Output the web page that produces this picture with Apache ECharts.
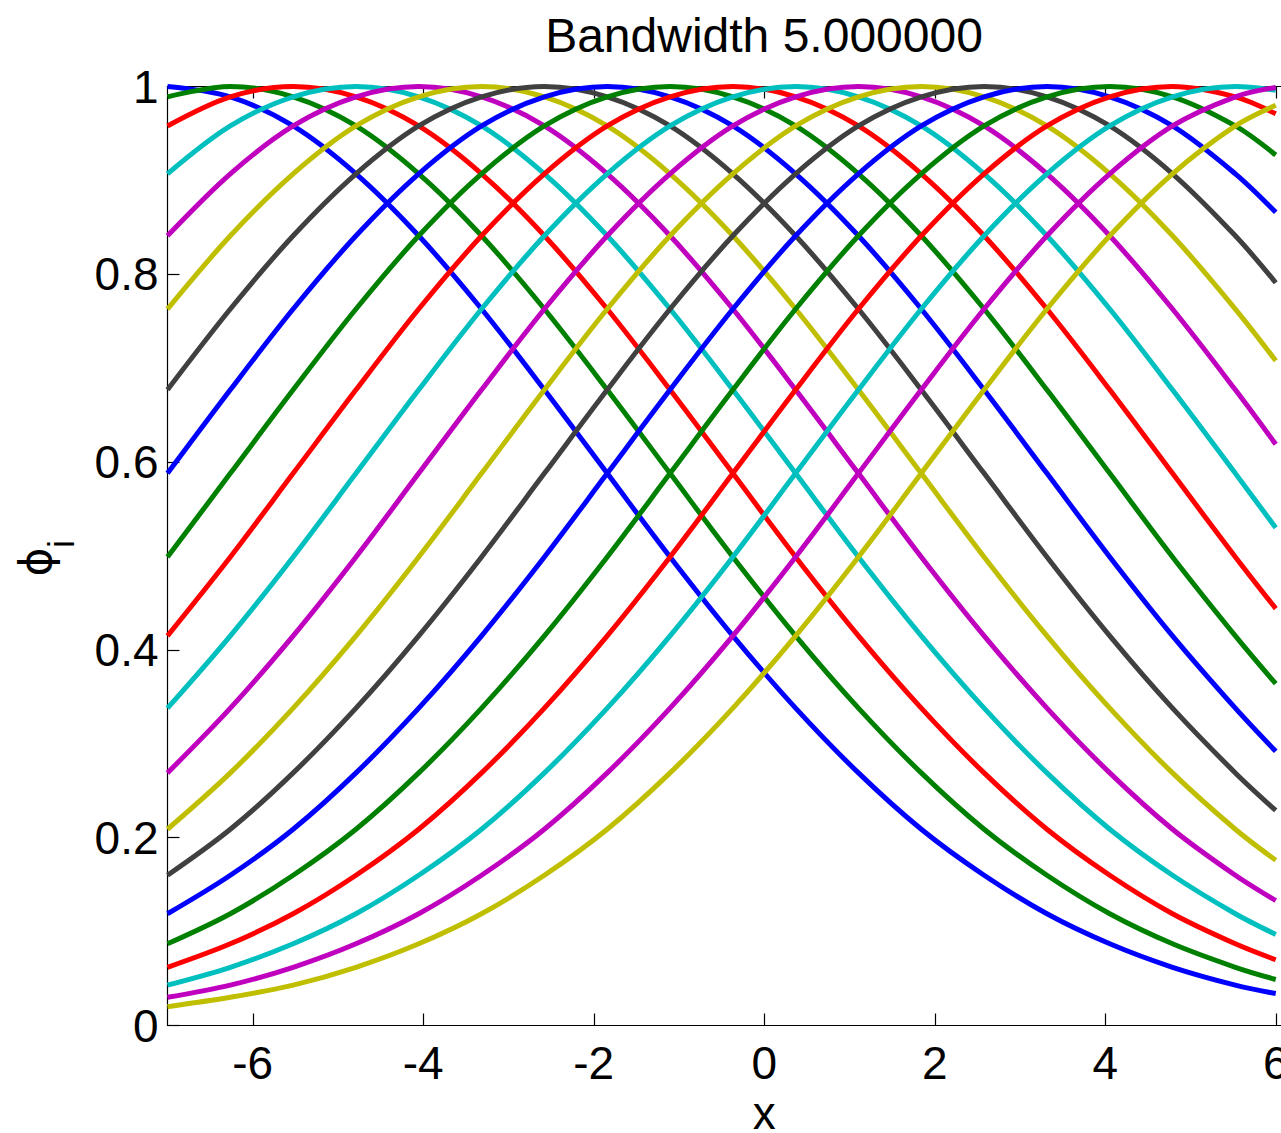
<!DOCTYPE html>
<html>
<head>
<meta charset="utf-8">
<script src="https://cdn.jsdelivr.net/npm/echarts@6/dist/echarts.min.js"></script>
<style>
html,body{margin:0;padding:0;background:#fff;overflow:hidden;width:1281px;height:1133px}
#chart{width:1380px;height:1133px}
</style>
</head>
<body>
<div id="chart"></div>
<script>
// ---- data ----
const titleText = 'Bandwidth 5.000000';
const xName = 'x';
const xTickValues = [-6, -4, -2, 0, 2, 4, 6];
const yTickValues = [0, 0.2, 0.4, 0.6, 0.8, 1];

// sample x positions (the basis centres inside the view, then the right edge x = 6)
const xs = [-7, -6.263, -5.526, -4.789, -4.053, -3.316, -2.579, -1.842, -1.105, -0.368,
            0.368, 1.105, 1.842, 2.579, 3.316, 4.053, 4.789, 5.526, 6];

const phi1  = [1, .989, .958, .907, .841, .763, .677, .588, .499, .415, .338, .269, .209, .160, .119, .087, .062, .043, .034];
const phi2  = [.989, 1, .989, .958, .907, .841, .763, .677, .588, .499, .415, .338, .269, .209, .160, .119, .087, .062, .049];
const phi3  = [.958, .989, 1, .989, .958, .907, .841, .763, .677, .588, .499, .415, .338, .269, .209, .160, .119, .087, .070];
const phi4  = [.907, .958, .989, 1, .989, .958, .907, .841, .763, .677, .588, .499, .415, .338, .269, .209, .160, .119, .097];
const phi5  = [.841, .907, .958, .989, 1, .989, .958, .907, .841, .763, .677, .588, .499, .415, .338, .269, .209, .160, .133];
const phi6  = [.763, .841, .907, .958, .989, 1, .989, .958, .907, .841, .763, .677, .588, .499, .415, .338, .269, .209, .176];
const phi7  = [.677, .763, .841, .907, .958, .989, 1, .989, .958, .907, .841, .763, .677, .588, .499, .415, .338, .269, .229];
const phi8  = [.588, .677, .763, .841, .907, .958, .989, 1, .989, .958, .907, .841, .763, .677, .588, .499, .415, .338, .292];
const phi9  = [.499, .588, .677, .763, .841, .907, .958, .989, 1, .989, .958, .907, .841, .763, .677, .588, .499, .415, .364];
const phi10 = [.415, .499, .588, .677, .763, .841, .907, .958, .989, 1, .989, .958, .907, .841, .763, .677, .588, .499, .444];
const phi11 = [.338, .415, .499, .588, .677, .763, .841, .907, .958, .989, 1, .989, .958, .907, .841, .763, .677, .588, .530];
const phi12 = [.269, .338, .415, .499, .588, .677, .763, .841, .907, .958, .989, 1, .989, .958, .907, .841, .763, .677, .619];
const phi13 = [.209, .269, .338, .415, .499, .588, .677, .763, .841, .907, .958, .989, 1, .989, .958, .907, .841, .763, .708];
const phi14 = [.160, .209, .269, .338, .415, .499, .588, .677, .763, .841, .907, .958, .989, 1, .989, .958, .907, .841, .791];
const phi15 = [.119, .160, .209, .269, .338, .415, .499, .588, .677, .763, .841, .907, .958, .989, 1, .989, .958, .907, .866];
const phi16 = [.087, .119, .160, .209, .269, .338, .415, .499, .588, .677, .763, .841, .907, .958, .989, 1, .989, .958, .927];
const phi17 = [.062, .087, .119, .160, .209, .269, .338, .415, .499, .588, .677, .763, .841, .907, .958, .989, 1, .989, .971];
const phi18 = [.043, .062, .087, .119, .160, .209, .269, .338, .415, .499, .588, .677, .763, .841, .907, .958, .989, 1, .996];
const phi19 = [.030, .043, .062, .087, .119, .160, .209, .269, .338, .415, .499, .588, .677, .763, .841, .907, .958, .989, .999];
const phi20 = [.020, .030, .043, .062, .087, .119, .160, .209, .269, .338, .415, .499, .588, .677, .763, .841, .907, .958, .980];

const curves = [phi1, phi2, phi3, phi4, phi5, phi6, phi7, phi8, phi9, phi10,
                phi11, phi12, phi13, phi14, phi15, phi16, phi17, phi18, phi19, phi20];
const palette = ['#0000FF', '#008000', '#FF0000', '#00BFBF', '#BF00BF', '#BFBF00', '#404040'];

// ---- chart ----
const FONT = '"Liberation Sans", Arial, Helvetica, sans-serif';
const GREEK = '"DejaVu Sans", "Liberation Sans", sans-serif';
const chart = echarts.init(document.getElementById('chart'), null, {renderer: 'svg', width: 1380, height: 1133});

const series = curves.map((vals, i) => ({
  type: 'line',
  name: 'phi' + (i + 1),
  data: xs.map((x, k) => [x, vals[k]]),
  showSymbol: false,
  symbol: 'none',
  smooth: 0.33,
  clip: true,
  lineStyle: {width: 5, color: palette[i % palette.length]},
  itemStyle: {color: palette[i % palette.length]},
  emphasis: {disabled: true},
  animation: false
}));

const axisLineStyle = {color: '#000', width: 1.2};

const option = {
  animation: false,
  backgroundColor: '#fff',
  grid: {left: 167.5, top: 86.5, width: 1193.5, height: 939, containLabel: false, outerBoundsMode: 'none'},
  xAxis: [
    {
      type: 'value', min: -7, max: 7, position: 'bottom',
      name: xName, nameLocation: 'middle', nameGap: 61,
      nameTextStyle: {fontSize: 46, lineHeight: 30, fontFamily: FONT, color: '#000'},
      axisLine: {show: true, onZero: false, lineStyle: axisLineStyle},
      axisTick: {show: true, inside: true, length: 12, customValues: xTickValues, lineStyle: axisLineStyle},
      axisLabel: {show: true, customValues: xTickValues, margin: 14, fontSize: 46, fontFamily: FONT, color: '#000'},
      splitLine: {show: false}
    },
    {
      type: 'value', min: -7, max: 7, position: 'top',
      axisLine: {show: true, onZero: false, lineStyle: axisLineStyle},
      axisTick: {show: true, inside: true, length: 12, customValues: xTickValues, lineStyle: axisLineStyle},
      axisLabel: {show: false},
      splitLine: {show: false}
    }
  ],
  yAxis: [
    {
      type: 'value', min: 0, max: 1, interval: 0.2, position: 'left',
      axisLine: {show: true, onZero: false, lineStyle: axisLineStyle},
      axisTick: {show: true, inside: true, length: 12, lineStyle: axisLineStyle},
      axisLabel: {show: true, margin: 9, fontSize: 46, fontFamily: FONT, color: '#000'},
      splitLine: {show: false}
    }
  ],
  graphic: [
    {type: 'text', x: 764, y: 35.5, silent: true,
     style: {text: titleText, font: '48px ' + FONT, fill: '#000', textAlign: 'center', textVerticalAlign: 'middle'}},
    {type: 'text', x: 35, y: 562, rotation: Math.PI / 2, silent: true,
     style: {text: 'ϕ', font: '44px ' + GREEK, fill: '#000', textAlign: 'center', textVerticalAlign: 'middle'}},
    {type: 'text', x: 61.5, y: 544, rotation: Math.PI / 2, silent: true,
     style: {text: 'i', font: '36px ' + FONT, fill: '#000', textAlign: 'center', textVerticalAlign: 'middle'}}
  ],
  series: series
};
chart.setOption(option);
</script>
</body>
</html>
